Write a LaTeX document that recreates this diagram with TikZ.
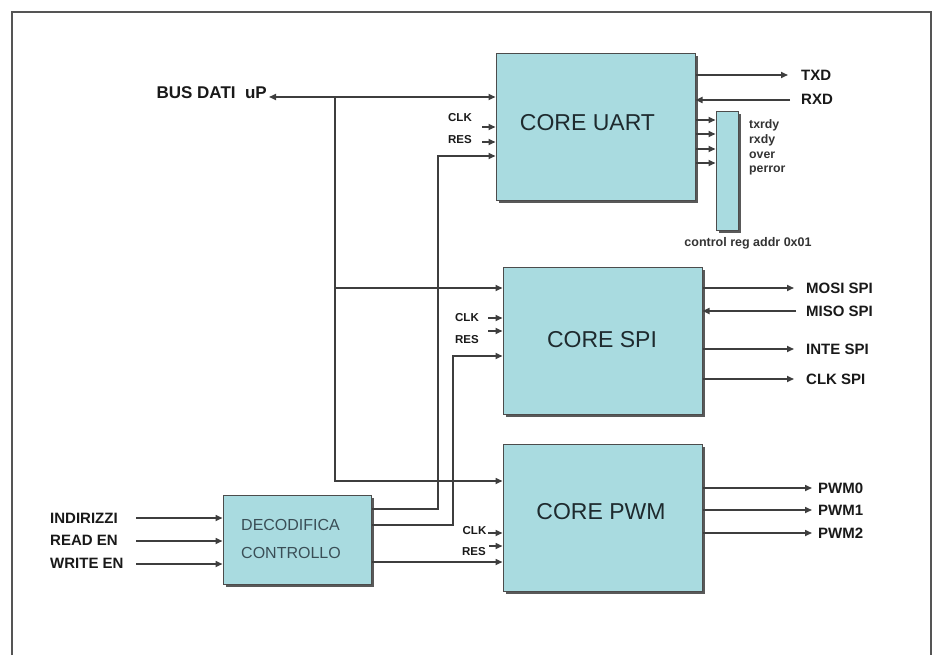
\documentclass[tikz,border=0pt]{standalone}
\usepackage{fontspec}
\setmainfont{Liberation Sans}
\usetikzlibrary{arrows.meta,shadows}
\definecolor{boxfill}{RGB}{169,219,224}
\definecolor{linec}{RGB}{62,62,62}
\definecolor{framec}{RGB}{85,85,85}
\definecolor{titlec}{RGB}{30,42,46}
\definecolor{dectext}{RGB}{58,78,86}
\begin{document}
\begin{tikzpicture}[x=1pt,y=-1pt,
  blk/.style={draw=black!70, line width=1pt, fill=boxfill, inner sep=0pt,
    drop shadow={shadow xshift=2.5pt,shadow yshift=-2.5pt,fill=black!65,opacity=1}},
  arr/.style={draw=linec, line width=1.6pt, -{Triangle[length=7pt,width=6pt]}},
  sig/.style={font=\fontsize{15}{15}\selectfont\bfseries, anchor=west, inner sep=0pt, text=black!90},
  small/.style={font=\fontsize{11.5}{12}\selectfont\bfseries, inner sep=0pt, text=black!90},
  flag/.style={font=\fontsize{12.3}{13}\selectfont\bfseries, anchor=west, inner sep=0pt, text=black!80},
  title/.style={font=\fontsize{23}{23}\selectfont, text=titlec, inner sep=0pt}]
\useasboundingbox (0,0) rectangle (933,655);
% frame
\draw[framec, line width=1.8pt] (12,655) -- (12,12) -- (931,12) -- (931,655);

% blocks
\node[blk, minimum width=199pt, minimum height=146pt] (uart) at (595.5,127) {};
\node[blk, minimum width=22pt, minimum height=118pt] (creg) at (727,171) {};
\node[blk, minimum width=199pt, minimum height=147pt] (spi) at (602.5,340.5) {};
\node[blk, minimum width=199pt, minimum height=147pt] (pwm) at (602.5,517.5) {};
\node[blk, minimum width=148pt, minimum height=89pt] (dec) at (297,539.5) {};

% titles
\node[title] (tu) at (587.5,122.5) {CORE UART};
\node[title] (ts) at (602,340) {CORE SPI};
\node[title] (tp) at (601,511.5) {CORE PWM};
\node[font=\fontsize{16}{16}\selectfont, text=dectext, anchor=west, inner sep=0pt] (td1) at (241,525) {DECODIFICA};
\node[font=\fontsize{16}{16}\selectfont, text=dectext, anchor=west, inner sep=0pt] (td2) at (241,553) {CONTROLLO};

% data bus
\node[font=\fontsize{17}{17}\selectfont\bfseries, anchor=east, inner sep=0pt, text=black!90] (busl) at (267,92.5) {BUS DATI~~uP};
\coordinate (bus) at (269,97);
\coordinate (jA) at (335,97);
\coordinate (jB) at (335,288);
\coordinate (jC) at (335,481);
\draw[arr] (jA) -- (bus);
\draw[arr] (jA) -- (uart.west |- jA);
\draw[arr] (jA) -- (jC) -- (pwm.west |- jC);
\draw[arr] (jB) -- (spi.west |- jB);

% decoder outputs
\coordinate (dU) at (438,509);
\coordinate (uU) at (438,156);
\coordinate (dS) at (453,525);
\coordinate (sS) at (453,356);
\coordinate (pR) at (400,562);
\draw[arr] (dec.east |- dU) -- (dU) -- (uU) -- (uart.west |- uU);
\draw[arr] (dec.east |- dS) -- (dS) -- (sS) -- (spi.west |- sS);
\draw[arr] (dec.east |- pR) -- (pwm.west |- pR);

% decoder inputs
\node[sig] (ind) at (50,518.5) {INDIRIZZI};
\node[sig] (rd) at (50,540.5) {READ EN};
\node[sig] (wr) at (50,563) {WRITE EN};
\coordinate (i1) at (136,518);
\coordinate (i2) at (136,541);
\coordinate (i3) at (136,564);
\draw[arr] (i1) -- (dec.west |- i1);
\draw[arr] (i2) -- (dec.west |- i2);
\draw[arr] (i3) -- (dec.west |- i3);

% CLK / RES inputs
\node[small] (uclkl) at (460,118) {CLK};
\node[small] (uresl) at (460,140) {RES};
\coordinate (uclk) at (482,127);
\coordinate (ures) at (482,142);
\draw[arr] (uclk) -- (uart.west |- uclk);
\draw[arr] (ures) -- (uart.west |- ures);

\node[small] (sclkl) at (467,318) {CLK};
\node[small] (sresl) at (467,340) {RES};
\coordinate (sclk) at (488,318);
\coordinate (sres) at (488,331);
\draw[arr] (sclk) -- (spi.west |- sclk);
\draw[arr] (sres) -- (spi.west |- sres);

\node[small] (pclkl) at (474.5,531) {CLK};
\node[small] (presl) at (474,552) {RES};
\coordinate (pclk) at (488,533);
\coordinate (pres) at (489,546);
\draw[arr] (pclk) -- (pwm.west |- pclk);
\draw[arr] (pres) -- (pwm.west |- pres);

% UART outputs
\coordinate (tx) at (788,75);
\coordinate (rx) at (790,100);
\draw[arr] (uart.east |- tx) -- (tx);
\draw[arr] (rx) -- (uart.east |- rx);
\node[sig] (txl) at (801,75) {TXD};
\node[sig] (rxl) at (801,99) {RXD};
\foreach \yy [count=\i] in {120,134,149,163} {
  \coordinate (cr\i) at (706,\yy);
  \draw[arr] (uart.east |- cr\i) -- (creg.west |- cr\i);
}
\node[flag] (f1) at (749,125.5) {txrdy};
\node[flag] (f2) at (749,140.5) {rxdy};
\node[flag] (f3) at (749,155.5) {over};
\node[flag] (f4) at (749,170.5) {perror};
\node[font=\fontsize{12.5}{13}\selectfont\bfseries, inner sep=0pt, text=black!80] (crl) at (748,243) {control reg addr 0x01};

% SPI outputs
\coordinate (mosi) at (794,288);
\coordinate (miso) at (796,311);
\coordinate (inte) at (794,349);
\coordinate (sck) at (794,379);
\draw[arr] (spi.east |- mosi) -- (mosi);
\draw[arr] (miso) -- (spi.east |- miso);
\draw[arr] (spi.east |- inte) -- (inte);
\draw[arr] (spi.east |- sck) -- (sck);
\node[sig] (mosil) at (806,288) {MOSI SPI};
\node[sig] (misol) at (806,311) {MISO SPI};
\node[sig] (intel) at (806,349) {INTE SPI};
\node[sig] (sckl) at (806,379) {CLK SPI};

% PWM outputs
\coordinate (p0) at (812,488);
\coordinate (p1) at (812,510);
\coordinate (p2) at (812,533);
\draw[arr] (pwm.east |- p0) -- (p0);
\draw[arr] (pwm.east |- p1) -- (p1);
\draw[arr] (pwm.east |- p2) -- (p2);
\node[sig] (p0l) at (818,488) {PWM0};
\node[sig] (p1l) at (818,510) {PWM1};
\node[sig] (p2l) at (818,533) {PWM2};
\end{tikzpicture}
\end{document}
